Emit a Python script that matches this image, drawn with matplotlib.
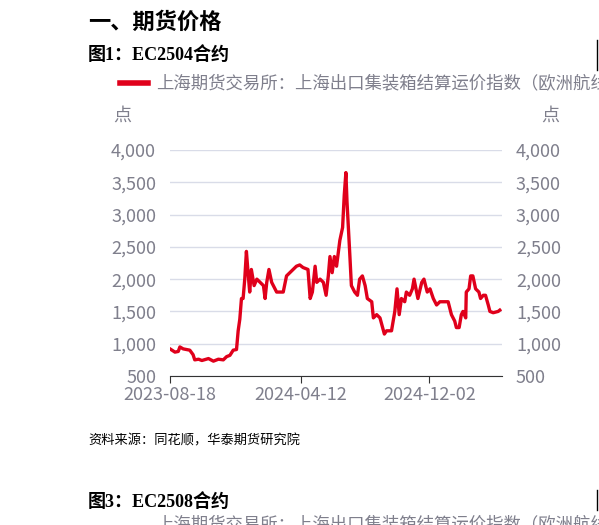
import numpy as np
import matplotlib
matplotlib.use('Agg')
import matplotlib.pyplot as plt

plt.rcParams['font.family'] = ['Noto Sans CJK SC', 'DejaVu Sans']

# days since 2023-08-18, settlement index values
day_offsets = [0, 9, 15, 18, 24, 36, 42, 45, 52, 58, 70, 79, 88, 97, 103, 109, 115, 121, 124, 127,
               130, 133, 136, 139, 142, 145, 148, 153, 158, 164, 170, 173, 176, 180, 185, 191, 194, 206,
               212, 218, 224, 230, 236, 242, 251, 255, 259, 264, 267, 273, 279, 284, 288, 291, 295, 299,
               303, 306, 309, 314, 317, 320, 322, 327, 330, 336, 341, 345, 350, 355, 359, 367, 370, 376,
               382, 390, 394, 403, 409, 413, 417, 421, 427, 430, 436, 441, 444, 451, 458, 462, 468, 473,
               479, 485, 491, 497, 506, 512, 518, 521, 526, 530, 533, 538, 539, 544, 547, 551, 556, 562,
               565, 570, 574, 579, 582, 588, 597, 600]
values = [920, 870, 880, 950, 920, 900, 830, 750, 760, 740, 770, 730, 760, 750, 800, 820, 900, 910, 1200, 1380,
          1700, 1700, 2000, 2430, 2100, 1800, 2150, 1900, 2000, 1950, 1900, 1700, 1950, 2150, 1950, 1850, 1800, 1800,
          2050, 2100, 2150, 2200, 2220, 2180, 2150, 1700, 1800, 2200, 1950, 2000, 1950, 1750, 2050, 2350, 2100, 2350,
          2200, 2400, 2600, 2800, 3300, 3650, 3200, 2400, 1900, 1800, 1750, 2000, 2050, 1900, 1700, 1650, 1400, 1450,
          1400, 1150, 1200, 1200, 1500, 1850, 1450, 1700, 1650, 1800, 1750, 1850, 2000, 1700, 1950, 2000, 1800, 1850,
          1700, 1600, 1650, 1650, 1650, 1450, 1350, 1250, 1250, 1450, 1500, 1400, 1800, 1850, 2050, 2050, 1850, 1800,
          1700, 1750, 1750, 1600, 1500, 1480, 1500, 1520]
tick_dates = ['2023-08-18', '2024-04-12', '2024-12-02']
yticks = [500, 1000, 1500, 2000, 2500, 3000, 3500, 4000]

start = np.datetime64('2023-08-18')
dates = start + np.array(day_offsets).astype('timedelta64[D]')
grey = '#7f7f8c'

fig = plt.figure(figsize=(5.99, 5.25), dpi=100)
ax = fig.add_axes([170/599, 1-376/525, 332/599, 226/525])
ax.plot(dates, values, color='#e0001b', lw=2.4)
ax.set_ylim(500, 4000)
ax.set_xlim(start, start + np.timedelta64(604, 'D'))
ax.set_yticks(yticks)
ax.set_yticklabels([f'{v:,}' for v in yticks])
ax.set_xticks([np.datetime64(d) for d in tick_dates])
ax.set_xticklabels(tick_dates)
ax.grid(axis='y', color='#d9dce8', lw=1)
for s in ['top', 'left', 'right']:
    ax.spines[s].set_visible(False)
ax.spines['bottom'].set_color('#333333')
ax.tick_params(axis='y', length=0, labelsize=13, labelcolor=grey, pad=10, labelright=True)
ax.tick_params(axis='x', length=5, color='#333333', labelsize=13, labelcolor=grey, pad=2)

serif = ['Liberation Serif', 'Noto Sans CJK SC']
fig.text(88/599, 1-22/525, '一、期货价格', fontsize=16, fontweight='bold', va='center')
fig.text(88/599, 1-55/525, '图1：EC2504合约', fontsize=13, fontweight='bold', va='center', family=serif)
fig.lines.append(plt.Line2D([120/599, 148/599], [1-83/525]*2, color='#e0001b', lw=4, transform=fig.transFigure))
fig.text(156/599, 1-83/525, '上海期货交易所：上海出口集装箱结算运价指数（欧洲航线）',
         fontsize=12.5, color=grey, va='center')
fig.text(122/599, 1-116/525, '点', fontsize=13, color=grey, va='center', ha='center')
fig.text(550/599, 1-116/525, '点', fontsize=13, color=grey, va='center', ha='center')
fig.text(88/599, 1-441/525, '资料来源：同花顺，华泰期货研究院', fontsize=9.5, style='italic', va='center')
fig.text(88/599, 1-502/525, '图3：EC2508合约', fontsize=13, fontweight='bold', va='center', family=serif)
fig.text(156/599, 1-524/525, '上海期货交易所：上海出口集装箱结算运价指数（欧洲航线）',
         fontsize=12.5, color=grey, va='center')
fig.lines.append(plt.Line2D([597/599]*2, [1-70/525, 1-40/525], color='black', lw=1, transform=fig.transFigure))
fig.lines.append(plt.Line2D([597/599]*2, [1-510/525, 1-490/525], color='black', lw=1, transform=fig.transFigure))

fig.savefig('out.png', dpi=100)
